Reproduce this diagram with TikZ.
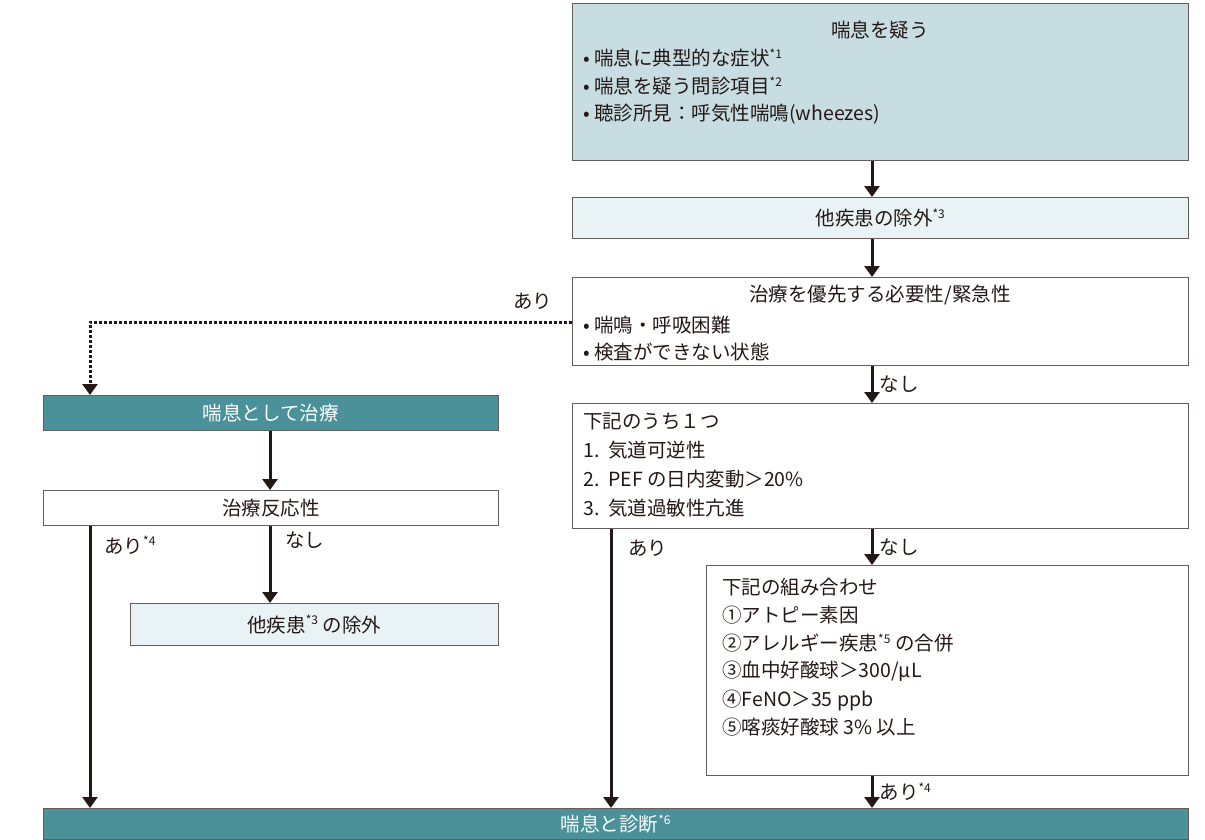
\documentclass[tikz,border=0pt]{standalone}
\usepackage{fontspec}
\setmainfont{Noto Sans CJK JP}
\usetikzlibrary{arrows.meta}
\definecolor{lteal}{HTML}{C8DDE2}
\definecolor{pteal}{HTML}{E9F3F5}
\definecolor{dteal}{HTML}{4A9199}
\definecolor{ink}{HTML}{231815}
\tikzset{
  box/.style={draw=ink!70,line width=0.8pt,anchor=north west,inner sep=0pt},
  txt/.style={font=\fontsize{19.5}{22}\selectfont,text=ink,inner sep=0pt},
  arr/.style={draw=ink,line width=3pt,-{Triangle[length=11pt,width=15pt]}},
  lbl/.style={txt,anchor=west}
}
\newcommand{\sps}[1]{\textsuperscript{\fontsize{12}{12}\selectfont *#1}}
\begin{document}
\begin{tikzpicture}[x=1pt,y=-1pt]
\useasboundingbox (0,0) rectangle (1205,840);
%=======boxes=============
\node[box,fill=lteal,minimum width=616pt,minimum height=157pt] (sus) at (572,3) {};
\node[box,fill=pteal,minimum width=616pt,minimum height=41pt] (exc) at (572,197) {};
\node[box,minimum width=616pt,minimum height=88pt] (urg) at (572,277) {};
\node[box,fill=dteal,minimum width=455pt,minimum height=35pt] (trt) at (43,395) {};
\node[box,minimum width=616pt,minimum height=125pt] (one) at (572,403) {};
\node[box,minimum width=455pt,minimum height=35pt] (resp) at (43,490) {};
\node[box,minimum width=482pt,minimum height=210pt] (comb) at (706,565) {};
\node[box,fill=pteal,minimum width=368pt,minimum height=42pt] (oth) at (130,603) {};
\node[box,fill=dteal,minimum width=1145pt,minimum height=31pt] (dia) at (43,808) {};
%=======texts=============
\node[txt] (t1) at (880,30) {喘息を疑う};
\node[lbl] at (583,58) {• 喘息に典型的な症状\sps{1}};
\node[lbl] at (583,86) {• 喘息を疑う問診項目\sps{2}};
\node[lbl] at (583,114) {• 聴診所見：呼気性喘鳴(wheezes)};
\node[txt] at (exc) {他疾患の除外\sps{3}};
\node[txt] at (880,295) {治療を優先する必要性/緊急性};
\node[lbl] at (583,325) {• 喘鳴・呼吸困難};
\node[lbl] at (583,352) {• 検査ができない状態};
\node[txt,text=white] at (trt) {喘息として治療};
\node[lbl] at (583,421) {下記のうち１つ};
\node[lbl] at (583,450) {1.\ \ 気道可逆性};
\node[lbl] at (583,479) {2.\ \ PEF の日内変動＞20\%};
\node[lbl] at (583,508) {3.\ \ 気道過敏性亢進};
\node[txt] at (resp) {治療反応性};
\node[lbl] at (722,587) {下記の組み合わせ};
\node[lbl] at (722,615) {①アトピー素因};
\node[lbl] at (722,643) {②アレルギー疾患\sps{5} の合併};
\node[lbl] at (722,671) {③血中好酸球＞300/μL};
\node[lbl] at (722,700) {④FeNO＞35 ppb};
\node[lbl] at (722,727) {⑤喀痰好酸球 3\% 以上};
\node[txt] at (oth) {他疾患\sps{3} の除外};
\node[txt,text=white] at (dia) {喘息と診断\sps{6}};
%=======connectors=============
\draw[arr] (sus.south -| 872,0) -- (exc.north -| 872,0);
\draw[arr] (exc.south -| 872,0) -- (urg.north -| 872,0);
\draw[arr] (urg.south -| 872,0) -- node[lbl,right=6pt] {なし} (one.north -| 872,0);
\draw[arr] (one.south -| 872,0) -- node[lbl,right=6pt] {なし} (comb.north -| 872,0);
\draw[arr] (comb.south -| 872,0) -- node[lbl,right=6pt] {あり\sps{4}} (dia.north -| 872,0);
\draw[arr] (one.south -| 611,0) -- (dia.north -| 611,0);
\node[lbl] at (628,548) {あり};
\draw[arr] (trt.south -| 270,0) -- (resp.north -| 270,0);
\draw[arr] (resp.south -| 270,0) -- (oth.north -| 270,0);
\node[lbl] at (285,540) {なし};
\draw[arr] (resp.south -| 90,0) -- (dia.north -| 90,0);
\node[lbl] at (104,545) {あり\sps{4}};
\draw[draw=ink,line width=3pt,dotted,-{Triangle[length=11pt,width=15pt]}] (urg.west |- 0,322) -| (trt.north -| 90,0);
\node[lbl] at (513,301) {あり};
\end{tikzpicture}
\end{document}
